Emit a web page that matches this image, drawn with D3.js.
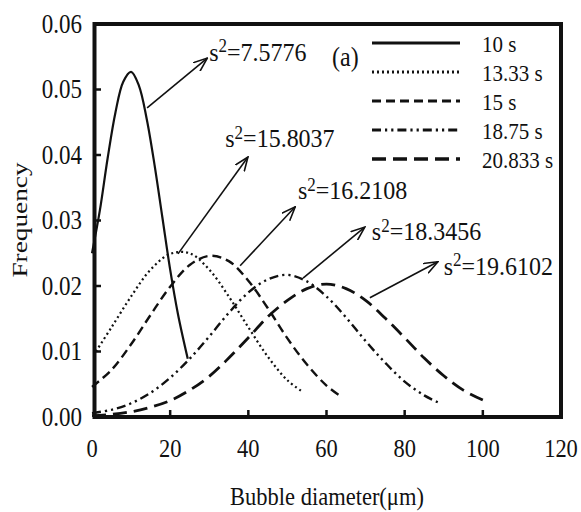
<!DOCTYPE html>
<html>
<head>
<meta charset="utf-8">
<script src="https://cdn.jsdelivr.net/npm/d3@7"></script>
<style>
  body { margin: 0; background: #fff; }
  svg text { font-family: "Liberation Serif", "Times New Roman", serif; fill: #111; }
</style>
</head>
<body>
<svg id="chart" width="581" height="512"></svg>
<script>
// series (x in um, y = frequency)
const series_names = ["10 s", "13.33 s", "15 s", "18.75 s", "20.833 s"];

const x_10s = [0, 2, 4, 6, 8, 10, 12, 14, 16, 18, 20, 22, 24.5];
const y_10s = [0.025, 0.0315, 0.0395, 0.0465, 0.0512, 0.0527, 0.0506, 0.0455, 0.0385, 0.0305, 0.0225, 0.0157, 0.0089];

const x_1333s = [1, 5, 10, 15, 20, 25, 30, 35, 40, 45, 50, 54];
const y_1333s = [0.0100, 0.0137, 0.0184, 0.0225, 0.0249, 0.0250, 0.0225, 0.0184, 0.0137, 0.0092, 0.0056, 0.0038];

const x_15s = [0, 5, 10, 15, 20, 25, 30, 35, 40, 45, 50, 55, 60, 64];
const y_15s = [0.0046, 0.0072, 0.0111, 0.0156, 0.0199, 0.0232, 0.0246, 0.0238, 0.0208, 0.0166, 0.0120, 0.0080, 0.0048, 0.0030];

const x_1875s = [0, 5, 10, 15, 20, 25, 30, 35, 40, 45, 50, 55, 60, 65, 70, 75, 80, 85, 89];
const y_1875s = [0.0006, 0.0011, 0.0021, 0.0037, 0.0060, 0.0089, 0.0123, 0.0159, 0.0190, 0.0210, 0.0217, 0.0207, 0.0184, 0.0152, 0.0116, 0.0083, 0.0054, 0.0033, 0.0021];

const x_20833s = [0, 5, 10, 15, 20, 25, 30, 35, 40, 45, 50, 55, 60, 65, 70, 75, 80, 85, 90, 95, 100];
const y_20833s = [0.0002, 0.0004, 0.0008, 0.0015, 0.0025, 0.0041, 0.0062, 0.0090, 0.0121, 0.0153, 0.0178, 0.0196, 0.0203, 0.0196, 0.0178, 0.0151, 0.0121, 0.0090, 0.0063, 0.0041, 0.0026];

// variance labels and the arrow that points to each curve
const ann_labels = ["7.5776", "15.8037", "16.2108", "18.3456", "19.6102"];
const ann_from_x = [14.1, 22.0, 37.9, 54.0, 71.1];
const ann_from_y = [0.0472, 0.0249, 0.0231, 0.0212, 0.0182];
const ann_to_x = [29.5, 39.9, 52.0, 69.8, 88.5];
const ann_to_y = [0.0548, 0.0397, 0.0321, 0.0290, 0.0237];
const ann_text_x = [30.0, 34.1, 52.7, 71.6, 90.0];
const ann_text_y = [0.0544, 0.0412, 0.0333, 0.0270, 0.0217];

const x_ticks = [0, 20, 40, 60, 80, 100, 120];
const y_ticks = [0, 0.01, 0.02, 0.03, 0.04, 0.05, 0.06];

const svg = d3.select("svg#chart");
const plot = { left: 92, right: 561, top: 24, bottom: 417 };

const x = d3.scaleLinear().domain([0, 120]).range([plot.left, plot.right]);
const y = d3.scaleLinear().domain([0, 0.06]).range([plot.bottom, plot.top]);

const styles = [
  { dash: null, width: 2.2 },
  { dash: "2,3", width: 2.2 },
  { dash: "9,5", width: 2.4 },
  { dash: "9,4,2.2,4,2.2,4", width: 2.4 },
  { dash: "14,7", width: 2.8 },
];

const all_x = [x_10s, x_1333s, x_15s, x_1875s, x_20833s];
const all_y = [y_10s, y_1333s, y_15s, y_1875s, y_20833s];
const curves = all_x.map((xs, i) => xs.map((v, j) => ({ x: v, y: all_y[i][j] })));

// text helper, the original figure is a bit stretched vertically
function label(g, px, py, str, size, anchor, sy) {
  return g.append("text")
    .attr("transform", `translate(${px},${py}) scale(1,${sy})`)
    .attr("font-size", size)
    .attr("text-anchor", anchor)
    .text(str);
}

const line = d3.line()
  .x((d) => x(d.x))
  .y((d) => y(d.y))
  .curve(d3.curveCatmullRom.alpha(0.5));

svg.append("defs").append("marker")
  .attr("id", "arrow")
  .attr("viewBox", "0 0 15 12")
  .attr("refX", 14)
  .attr("refY", 6)
  .attr("markerWidth", 15)
  .attr("markerHeight", 12)
  .attr("markerUnits", "userSpaceOnUse")
  .attr("orient", "auto")
  .append("path")
  .attr("d", "M0,0.5 L14,6 L0,11.5")
  .attr("fill", "none")
  .attr("stroke", "#111")
  .attr("stroke-width", 1.6);

// curves
svg.append("g")
  .selectAll("path.curve")
  .data(curves)
  .join("path")
  .attr("class", "curve")
  .attr("d", line)
  .attr("fill", "none")
  .attr("stroke", "#111")
  .attr("stroke-width", (d, i) => styles[i].width)
  .attr("stroke-dasharray", (d, i) => styles[i].dash)
  .attr("stroke-linecap", "butt");

// arrows + labels
const ann = svg.append("g");
ann_labels.forEach((lab, i) => {
  ann.append("line")
    .attr("x1", x(ann_from_x[i]))
    .attr("y1", y(ann_from_y[i]))
    .attr("x2", x(ann_to_x[i]))
    .attr("y2", y(ann_to_y[i]))
    .attr("stroke", "#111")
    .attr("stroke-width", 1.6)
    .attr("marker-end", "url(#arrow)");
  const t = ann.append("text")
    .attr("transform", `translate(${x(ann_text_x[i])},${y(ann_text_y[i])}) scale(1,1.05)`)
    .attr("font-size", 24);
  t.append("tspan").text("s");
  t.append("tspan").attr("font-size", 17).attr("dy", -8).text("2");
  t.append("tspan").attr("dy", 8).text("=" + lab);
});

// frame
svg.append("rect")
  .attr("x", 94.5)
  .attr("y", plot.top)
  .attr("width", plot.right - 94.5)
  .attr("height", plot.bottom - plot.top)
  .attr("fill", "none")
  .attr("stroke", "#111")
  .attr("stroke-width", 4);

// inward ticks
const ticks = svg.append("g").attr("stroke", "#111").attr("stroke-width", 2.5);
x_ticks.slice(1, -1).forEach((t) => {
  ticks.append("line").attr("x1", x(t)).attr("x2", x(t))
    .attr("y1", plot.bottom).attr("y2", plot.bottom - 7);
});
y_ticks.slice(1, -1).forEach((t) => {
  ticks.append("line").attr("x1", 94.5).attr("x2", 101)
    .attr("y1", y(t)).attr("y2", y(t));
});

const labels = svg.append("g");
x_ticks.forEach((t) => label(labels, x(t), 457, String(t), 22.5, "middle", 1.12));
y_ticks.forEach((t) => label(labels, 82, y(t) + 8.5, t.toFixed(2), 23, "end", 1.2));

label(labels, 327, 505, "Bubble diameter(\u03bcm)", 22.5, "middle", 1.15);
labels.append("text")
  .attr("transform", "translate(27,220) scale(1,1.3) rotate(-90)")
  .attr("font-size", 21)
  .attr("text-anchor", "middle")
  .text("Frequency");

label(labels, 332, 66, "(a)", 24, "start", 1.15);

// legend
const legend = svg.append("g");
series_names.forEach((name, i) => {
  const ly = 43 + 29 * i;
  legend.append("line")
    .attr("x1", 372).attr("x2", 460)
    .attr("y1", ly).attr("y2", ly)
    .attr("stroke", "#111")
    .attr("stroke-width", styles[i].width + 0.6)
    .attr("stroke-dasharray", styles[i].dash);
  label(legend, 482, ly + 8.5, name, 21, "start", 1.08);
});
</script>
</body>
</html>
